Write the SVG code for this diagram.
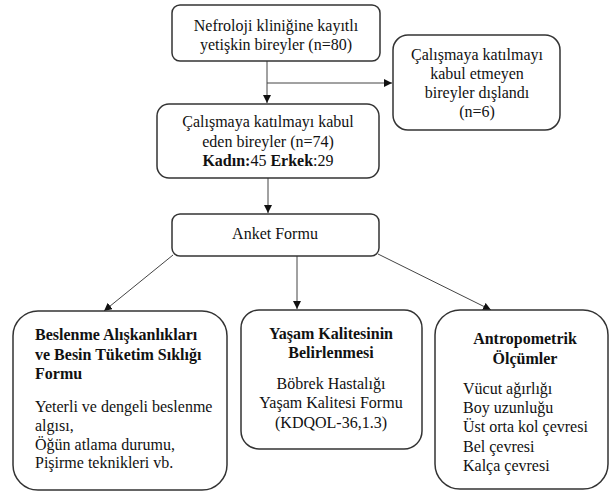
<svg xmlns="http://www.w3.org/2000/svg" width="611" height="492" viewBox="0 0 611 492">
<style>
.box{fill:#fff;stroke:#333;stroke-width:1.5}
text{font-family:"Liberation Serif","Tinos","Times New Roman",Times,"DejaVu Serif",serif;font-size:16px;fill:#111}
.c{text-anchor:middle}
.b{font-weight:bold}
.ln{stroke:#444;stroke-width:1;fill:none}
</style>
<defs>
<marker id="ah" viewBox="0 0 10 10" refX="10" refY="5" markerWidth="8" markerHeight="8" markerUnits="userSpaceOnUse" orient="auto">
<path d="M0,0 L10,5 L0,10 z" fill="#111"/>
</marker>
</defs>
<rect width="611" height="492" fill="#fff"/>
<g id="connectors">
<line class="ln" x1="267" y1="61" x2="267" y2="103" marker-end="url(#ah)"/>
<line class="ln" x1="267" y1="83" x2="392" y2="83" marker-end="url(#ah)"/>
<line class="ln" x1="268" y1="178" x2="268" y2="213" marker-end="url(#ah)"/>
<line class="ln" x1="173" y1="255" x2="104" y2="311" marker-end="url(#ah)"/>
<line class="ln" x1="297" y1="256" x2="297" y2="309" marker-end="url(#ah)"/>
<line class="ln" x1="378" y1="254" x2="491" y2="310" marker-end="url(#ah)"/>
</g>
<g id="n1">
<rect class="box" x="172" y="5" width="208" height="56" rx="8"/>
<text class="c" x="276" y="31">Nefroloji kliniğine kayıtlı</text>
<text class="c" x="276" y="50">yetişkin bireyler (n=80)</text>
</g>
<g id="n2">
<rect class="box" x="393" y="35" width="167" height="95" rx="15"/>
<text class="c" x="477" y="60">Çalışmaya katılmayı</text>
<text class="c" x="477" y="79">kabul etmeyen</text>
<text class="c" x="477" y="98">bireyler dışlandı</text>
<text class="c" x="477" y="117">(n=6)</text>
</g>
<g id="n3">
<rect class="box" x="157" y="104" width="222" height="74" rx="12"/>
<text class="c" x="268" y="127">Çalışmaya katılmayı kabul</text>
<text class="c" x="268" y="147">eden bireyler (n=74)</text>
<text class="c" x="268" y="166"><tspan class="b">Kadın:</tspan>45 <tspan class="b">Erkek</tspan>:29</text>
</g>
<g id="n4">
<rect class="box" x="172" y="214" width="207" height="42" rx="8"/>
<text class="c" x="275" y="239">Anket Formu</text>
</g>
<g id="n5">
<rect class="box" x="13" y="311" width="214" height="179" rx="25"/>
<text class="b" x="35" y="340">Beslenme Alışkanlıkları</text>
<text class="b" x="35" y="360">ve Besin Tüketim Sıklığı</text>
<text class="b" x="35" y="379">Formu</text>
<text x="35" y="412">Yeterli ve dengeli beslenme</text>
<text x="35" y="431">algısı,</text>
<text x="35" y="450">Öğün atlama durumu,</text>
<text x="35" y="468">Pişirme teknikleri vb.</text>
</g>
<g id="n6">
<rect class="box" x="241" y="310" width="181" height="139" rx="18"/>
<text class="c b" x="331" y="339">Yaşam Kalitesinin</text>
<text class="c b" x="331" y="358">Belirlenmesi</text>
<text class="c" x="331" y="389">Böbrek Hastalığı</text>
<text class="c" x="331" y="408">Yaşam Kalitesi Formu</text>
<text class="c" x="331" y="428">(KDQOL-36,1.3)</text>
</g>
<g id="n7">
<rect class="box" x="435" y="310" width="173" height="179" rx="25"/>
<text class="c b" x="525" y="344">Antropometrik</text>
<text class="c b" x="525" y="364">Ölçümler</text>
<text x="463" y="394">Vücut ağırlığı</text>
<text x="463" y="413">Boy uzunluğu</text>
<text x="463" y="432">Üst orta kol çevresi</text>
<text x="463" y="452">Bel çevresi</text>
<text x="463" y="471">Kalça çevresi</text>
</g>
</svg>
